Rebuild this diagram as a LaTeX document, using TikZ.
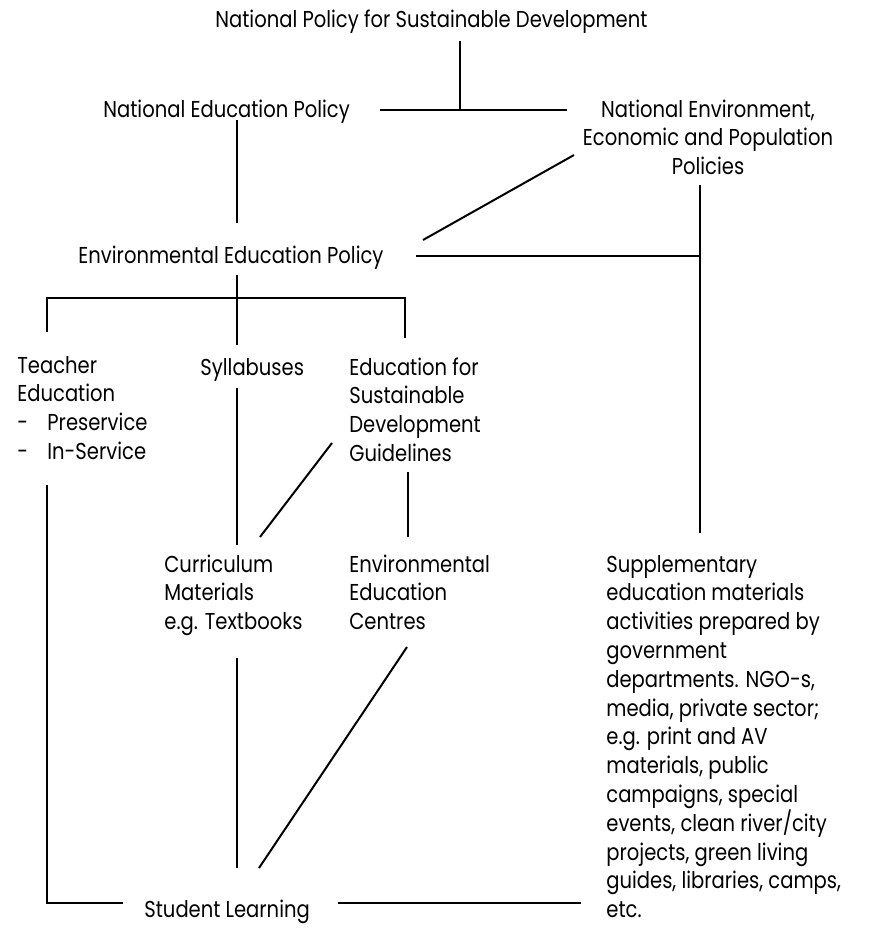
\documentclass[tikz,border=0pt]{standalone}
\usepackage{fontspec}
\setmainfont{Poppins}[FakeStretch=0.85]
\begin{document}
\begin{tikzpicture}[x=0.5pt,y=-0.5pt,
  lbl/.style={inner sep=0pt, anchor=base west, align=left, font=\fontsize{11.5}{14.4}\selectfont},
  lblc/.style={inner sep=0pt, anchor=base, align=center, font=\fontsize{11.5}{14.4}\selectfont},
  conn/.style={line width=1pt, black}]
\useasboundingbox[fill=white] (0,0) rectangle (873,942);
% texts (anchor = baseline of last line)
\node[lbl] (npsd) at (215,27) {National Policy for Sustainable Development};
\node[lbl] (nep) at (103,117) {National Education Policy};
\node[lblc] (nenv) at (708,174.6) {National Environment,\\Economic and Population\\Policies};
\node[lbl] (eep) at (78,263) {Environmental Education Policy};
\node[lbl] (ted) at (17,459.4) {Teacher\\Education\\\makebox[15pt][l]{-}Preservice\\\makebox[15pt][l]{-}In-Service};
\node[lbl] (syl) at (200,375) {Syllabuses};
\node[lbl] (esd) at (349,461.4) {Education for\\Sustainable\\Development\\Guidelines};
\node[lbl] (cur) at (164,629.6) {Curriculum\\Materials\\e.g. Textbooks};
\node[lbl] (eec) at (349,629.6) {Environmental\\Education\\Centres};
\node[lbl] (sup) at (606,917.6) {Supplementary\\education materials\\activities prepared by\\government\\departments. NGO-s,\\media, private sector;\\e.g. print and AV\\materials, public\\campaigns, special\\events, clean river/city\\projects, green living\\guides, libraries, camps,\\etc.};
\node[lbl] (sl) at (144,917) {Student Learning};
% connector end points
\coordinate (npsdB) at (460,41);
\coordinate (hJ) at (460,110);
\coordinate (nepR) at (380,110);
\coordinate (nenvL) at (567,110);
\coordinate (nepB) at (237,120);
\coordinate (eepT) at (237,223);
\coordinate (nenvD) at (574,155);
\coordinate (eepD) at (423,240);
\coordinate (eepR) at (416,256);
\coordinate (rJ) at (700,256);
\coordinate (nenvB) at (700,185);
\coordinate (supT) at (700,533);
\coordinate (eepB) at (237,275);
\coordinate (brL) at (47,298);
\coordinate (brR) at (405,298);
\coordinate (tedT) at (47,332);
\coordinate (sylT) at (237,345);
\coordinate (esdT) at (405,338);
\coordinate (sylB) at (237,388);
\coordinate (curT) at (237,545);
\coordinate (esdD) at (332,443);
\coordinate (curD) at (260,537);
\coordinate (esdB) at (408,472);
\coordinate (eecT) at (408,537);
\coordinate (tedB) at (47,485);
\coordinate (slC) at (47,903);
\coordinate (slL) at (123,903);
\coordinate (curB) at (237,658);
\coordinate (slT) at (237,868);
\coordinate (eecD) at (407,647);
\coordinate (slD) at (259,868);
\coordinate (slR) at (338,903);
\coordinate (supL) at (581,903);
% connectors
\draw[conn] (npsdB) -- (hJ);
\draw[conn] (nepR) -- (nenvL);
\draw[conn] (nepB) -- (eepT);
\draw[conn] (nenvD) -- (eepD);
\draw[conn] (eepR) -- (rJ);
\draw[conn] (nenvB) -- (supT);
\draw[conn] (eepB) -- (sylT);
\draw[conn] (tedT) -- (brL) -- (brR) -- (esdT);
\draw[conn] (sylB) -- (curT);
\draw[conn] (esdD) -- (curD);
\draw[conn] (esdB) -- (eecT);
\draw[conn] (tedB) -- (slC) -- (slL);
\draw[conn] (curB) -- (slT);
\draw[conn] (eecD) -- (slD);
\draw[conn] (slR) -- (supL);
\end{tikzpicture}
\end{document}
